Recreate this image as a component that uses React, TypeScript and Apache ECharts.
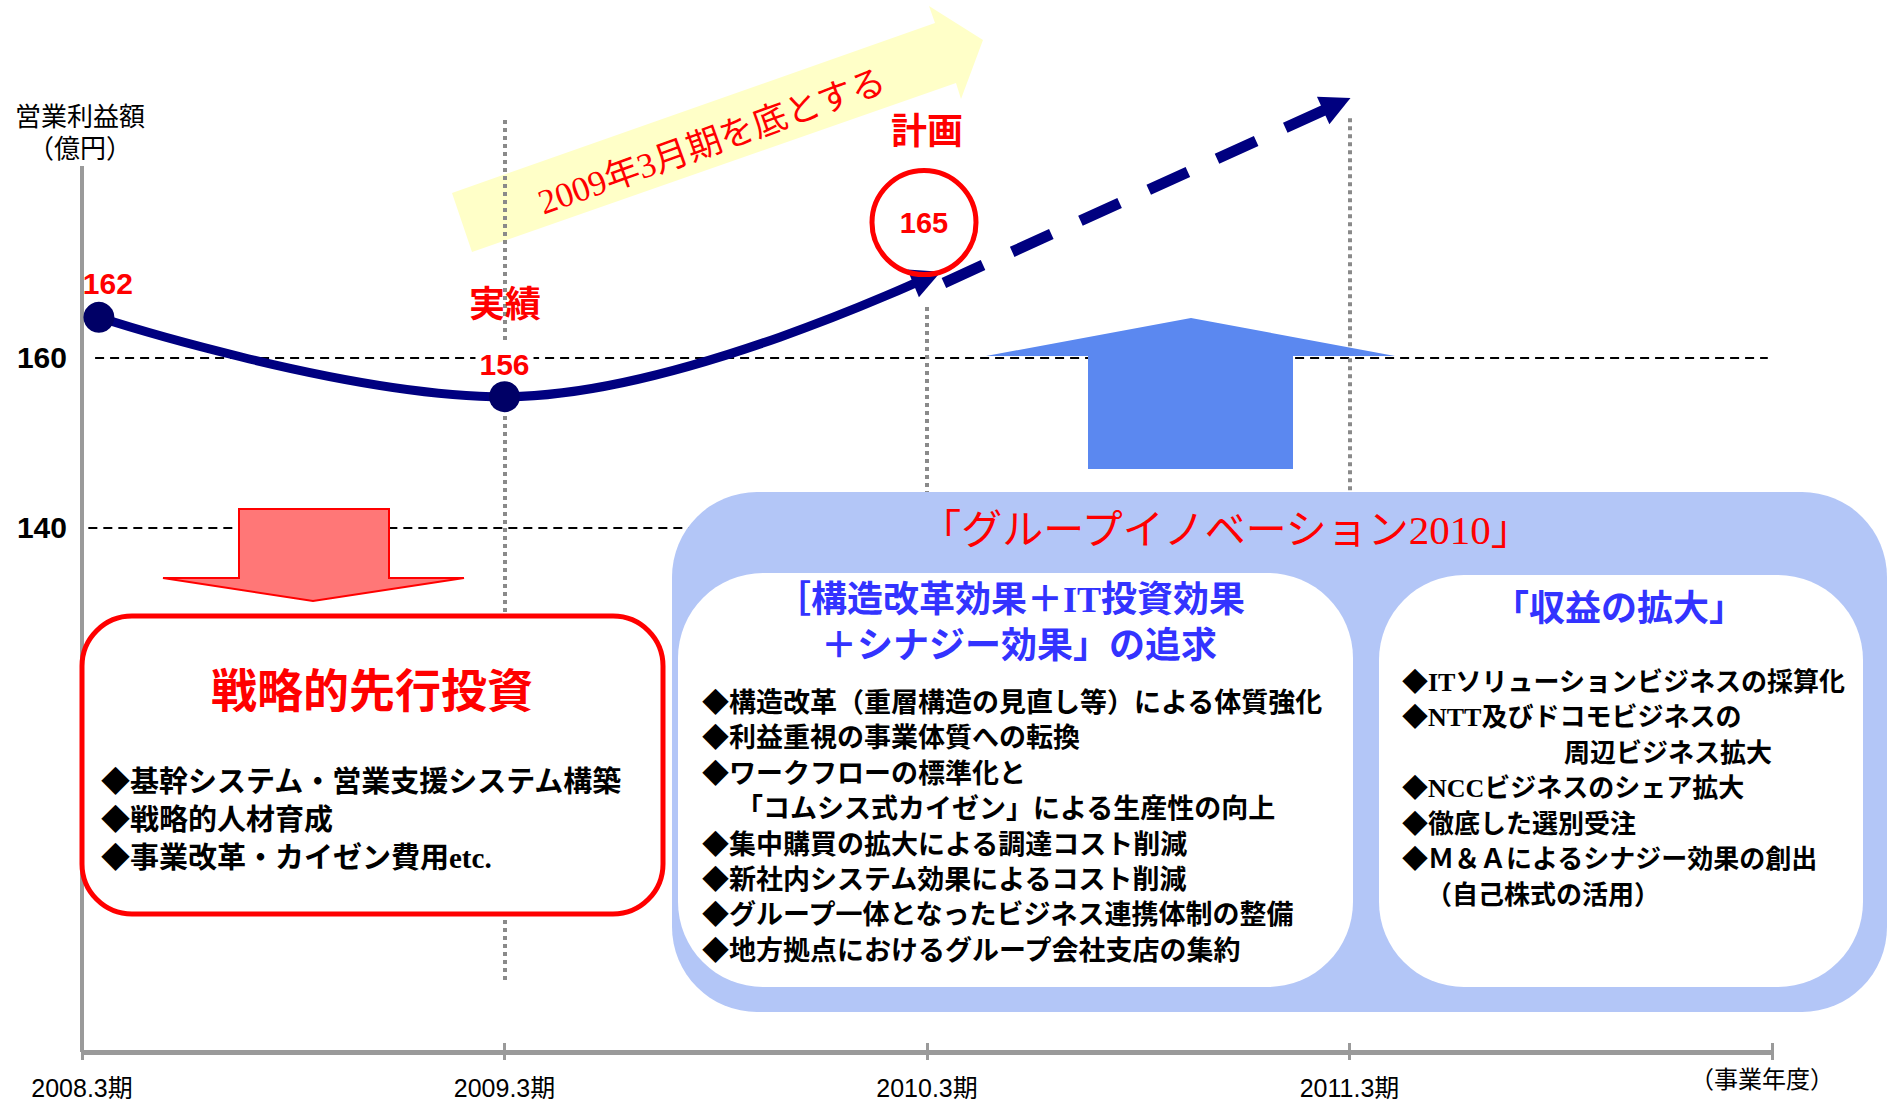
import React, { useEffect, useRef } from 'react';
import * as echarts from 'echarts';

// ---- data ----
const categories = ['2008.3期', '2009.3期', '2010.3期', '2011.3期', ''];
const actualX = [0.04, 1, 2];
const actualY = [162, 156, 165];
const planFrom = [2.04, 164.6];
const planTo = [2.97, 178.1];
const yTickValues = [140, 160];

const axisTitle = ['営業利益額', '（億円）'];
const xAxisName = '（事業年度）';
const bannerText = '2009年3月期を底とする';
const actualTag = '実績';
const planTag = '計画';

const leftTitle = '戦略的先行投資';
const leftBullets = ['◆基幹システム・営業支援システム構築', '◆戦略的人材育成', '◆事業改革・カイゼン費用etc.'];

const mainTitle = '「グループイノベーション2010」';
const midTitle = ['［構造改革効果＋IT投資効果', '＋シナジー効果」の追求'];
const midBullets = [
  '◆構造改革（重層構造の見直し等）による体質強化',
  '◆利益重視の事業体質への転換',
  '◆ワークフローの標準化と',
  '「コムシス式カイゼン」による生産性の向上',
  '◆集中購買の拡大による調達コスト削減',
  '◆新社内システム効果によるコスト削減',
  '◆グループ一体となったビジネス連携体制の整備',
  '◆地方拠点におけるグループ会社支店の集約',
];
const rightTitle = '「収益の拡大」';
const rightBullets = [
  '◆ITソリューションビジネスの採算化',
  '◆NTT及びドコモビジネスの',
  '周辺ビジネス拡大',
  '◆NCCビジネスのシェア拡大',
  '◆徹底した選別受注',
  '◆Ｍ＆Ａによるシナジー効果の創出',
  '（自己株式の活用）',
];

const SERIF = "'Liberation Serif', 'Noto Sans CJK JP', serif";
const SANS = "'Liberation Sans', Arial, 'Noto Sans CJK JP', sans-serif";

function txt(text: string, x: number, y: number, o: any = {}) {
  return {
    type: 'text',
    x,
    y,
    z: o.z ?? 12,
    rotation: o.rotation ?? 0,
    silent: true,
    style: {
      text,
      fill: o.fill ?? '#000',
      fontSize: o.fontSize ?? 28,
      fontWeight: o.fontWeight ?? 'bold',
      fontFamily: o.fontFamily ?? SERIF,
      align: o.align ?? 'left',
      verticalAlign: 'middle',
    },
  };
}

export default function App() {
  const ref = useRef<HTMLDivElement>(null);

  useEffect(() => {
    if (!ref.current) return;
    const chart = echarts.init(ref.current, null, { renderer: 'svg' });

    const actualData = actualX.map((x, i) => {
      const base: any = { value: [x, actualY[i]] };
      if (i === 0) {
        base.label = {
          show: true, position: 'top', distance: 3, offset: [9, 0],
          color: '#FF0000', fontSize: 30, fontWeight: 'bold', fontFamily: SANS,
        };
      } else if (i === 1) {
        base.label = {
          show: true, position: 'top', distance: 1,
          color: '#FF0000', fontSize: 30, fontWeight: 'bold', fontFamily: SANS,
          backgroundColor: '#ffffff', padding: [9, 4, 1, 4],
        };
      } else {
        base.symbolSize = 1;
        base.itemStyle = { color: 'rgba(0,0,0,0)' };
        base.label = {
          show: true, position: 'inside', offset: [-3, -55],
          color: '#FF0000', fontSize: 29, fontWeight: 'bold', fontFamily: SANS,
          width: 104, height: 104, lineHeight: 104, align: 'center', verticalAlign: 'middle',
          borderRadius: 52, borderColor: '#FF0000', borderWidth: 5,
        };
      }
      return base;
    });

    const graphics: any[] = [];
    // y axis title
    graphics.push(txt(axisTitle[0], 80, 117, { align: 'center', fontSize: 26, fontWeight: 'normal' }));
    graphics.push(txt(axisTitle[1], 80, 149, { align: 'center', fontSize: 26, fontWeight: 'normal' }));
    // x axis name
    graphics.push(txt(xAxisName, 1762, 1080, { align: 'center', fontSize: 24, fontWeight: 'normal' }));
    // yellow banner arrow
    graphics.push({
      type: 'polygon', z: 1, silent: true,
      shape: { points: [[472, 252], [452, 193], [935, 23], [929, 6], [983, 40], [961, 99], [956, 83]] },
      style: { fill: '#FFFFC8' },
    });
    graphics.push(txt(bannerText, 712, 142, { align: 'center', fontSize: 35, fontWeight: 'normal', fill: '#FF0000', rotation: 0.345, z: 1 }));
    // tags
    graphics.push(txt(actualTag, 505, 305, { align: 'center', fontSize: 36, fill: '#FF0000', z: 6 }));
    graphics.push(txt(planTag, 927, 132, { align: 'center', fontSize: 36, fill: '#FF0000', z: 6 }));
    // blue up arrow
    graphics.push({
      type: 'polygon', z: 10, silent: true,
      shape: { points: [[986, 356], [1191, 318], [1395, 356], [1293, 356], [1293, 469], [1088, 469], [1088, 356]] },
      style: { fill: '#5B88F0' },
    });
    // red down arrow
    graphics.push({
      type: 'polygon', z: 10, silent: true,
      shape: { points: [[239, 509], [389, 509], [389, 578], [464, 578], [313, 601], [163, 578], [239, 578]] },
      style: { fill: '#FF7777', stroke: '#FF0000', lineWidth: 2 },
    });
    // red box
    graphics.push({
      type: 'rect', z: 10, silent: true,
      shape: { x: 82, y: 616, width: 581, height: 298, r: 50 },
      style: { fill: '#ffffff', stroke: '#FF0000', lineWidth: 5 },
    });
    graphics.push(txt(leftTitle, 372, 691, { align: 'center', fontSize: 46, fill: '#FF0000' }));
    leftBullets.forEach((s, i) => graphics.push(txt(s, 101, 782 + i * 38, { fontSize: 29 })));
    // blue box
    graphics.push({
      type: 'rect', z: 10, silent: true,
      shape: { x: 672, y: 492, width: 1215, height: 520, r: 85 },
      style: { fill: '#B3C6F7' },
    });
    graphics.push({
      type: 'rect', z: 11, silent: true,
      shape: { x: 678, y: 573, width: 675, height: 414, r: 85 },
      style: { fill: '#ffffff' },
    });
    graphics.push({
      type: 'rect', z: 11, silent: true,
      shape: { x: 1379, y: 575, width: 484, height: 412, r: 85 },
      style: { fill: '#ffffff' },
    });
    graphics.push(txt(mainTitle, 1226, 530, { align: 'center', fontSize: 41, fontWeight: 'normal', fill: '#FF0000' }));
    graphics.push(txt(midTitle[0], 1010, 600, { align: 'center', fontSize: 36, fill: '#3333FF' }));
    graphics.push(txt(midTitle[1], 1019, 646, { align: 'center', fontSize: 36, fill: '#3333FF' }));
    midBullets.forEach((s, i) =>
      graphics.push(txt(s, i === 3 ? 736 : 702, 703 + i * 35.4, { fontSize: 27 }))
    );
    graphics.push(txt(rightTitle, 1619, 609, { align: 'center', fontSize: 36, fill: '#3333FF' }));
    rightBullets.forEach((s, i) =>
      graphics.push(txt(s, i === 2 ? 1564 : i === 6 ? 1426 : 1402, 682 + i * 35.5, { fontSize: 26 }))
    );

    const option: any = {
      animation: false,
      backgroundColor: '#ffffff',
      grid: { left: 82, right: 115, top: 40, bottom: 48, containLabel: false },
      xAxis: [{
        type: 'value', min: 0, max: 4, interval: 1, offset: -9,
        axisLine: { show: false },
        axisTick: { show: true, inside: false, length: 17, lineStyle: { color: '#9a9a9a', width: 3 } },
        splitLine: { show: false },
        axisLabel: {
          margin: 32, color: '#000', fontSize: 25, fontFamily: SANS,
          formatter: (v: number) => categories[Math.round(v)] ?? '',
        },
      }],
      yAxis: [
        {
          type: 'value', min: 78.35, max: 197.41,
          axisLine: { show: false }, axisTick: { show: false }, splitLine: { show: false },
          axisLabel: {
            margin: 15, color: '#000', fontSize: 30, fontWeight: 'bold', fontFamily: SANS,
            formatter: (v: number) => (yTickValues.some((t) => Math.abs(t - v) < 1e-6) ? String(Math.round(v)) : ''),
          },
        },
        { type: 'value', min: 106.47, max: 182.96, show: false },
      ],
      graphic: graphics,
      series: [
        {
          name: 'guides', type: 'line', xAxisIndex: 0, yAxisIndex: 0, data: [], silent: true, clip: false, z: 2,
          markLine: {
            silent: true, symbol: 'none', label: { show: false }, animation: false,
            lineStyle: { color: '#000', width: 2, type: [9, 6] },
            data: [
              [{ coord: [0.031, 160] }, { coord: [3.99, 160] }],
              [{ coord: [0.015, 140] }, { coord: [3.99, 140] }],
            ],
          },
        },
        {
          name: 'years', type: 'line', xAxisIndex: 0, yAxisIndex: 0, data: [], silent: true, clip: false, z: 2,
          markLine: {
            silent: true, symbol: 'none', label: { show: false }, animation: false,
            lineStyle: { color: '#8a8a8a', width: 4, type: [4, 4] },
            data: [
              [{ coord: [1, 188.0] }, { coord: [1, 86.35] }],
              [{ coord: [2, 166.0] }, { coord: [2, 131.5] }],
              [{ coord: [3, 188.2] }, { coord: [3, 131.5] }],
            ],
          },
        },
        {
          name: 'axes', type: 'line', xAxisIndex: 0, yAxisIndex: 0, data: [], silent: true, clip: false, z: 3,
          markLine: {
            silent: true, symbol: 'none', label: { show: false }, animation: false,
            lineStyle: { color: '#9a9a9a', width: 4, type: 'solid' },
            data: [
              [{ coord: [0, 182.59] }, { coord: [0, 78.35] }],
              [{ coord: [0, 78.35], lineStyle: { width: 5 } }, { coord: [4, 78.35], lineStyle: { width: 5 } }],
            ],
          },
        },
        {
          name: '営業利益額', type: 'line', xAxisIndex: 0, yAxisIndex: 1, smooth: 0.4, clip: false, z: 5,
          symbol: 'circle', symbolSize: 31,
          lineStyle: { color: '#000080', width: 9 },
          itemStyle: { color: '#000066' },
          data: actualData,
          markLine: {
            silent: true, symbol: ['none', 'triangle'], symbolSize: 30, label: { show: false }, animation: false,
            lineStyle: { color: '#000080', width: 9, type: 'solid' },
            data: [[{ coord: [1.985, 164.8] }, { coord: [2.0, 165.0] }]],
          },
        },
        {
          name: '計画', type: 'line', xAxisIndex: 0, yAxisIndex: 1, data: [], silent: true, clip: false, z: 5,
          markLine: {
            silent: true, symbol: ['none', 'triangle'], symbolSize: 30, label: { show: false }, animation: false,
            lineStyle: { color: '#000080', width: 11, type: [43, 32] },
            data: [[{ coord: planFrom }, { coord: planTo }]],
          },
        },
      ],
    };

    chart.setOption(option);
    return () => chart.dispose();
  }, []);

  return (
    <div
      ref={ref}
      style={{ position: 'absolute', left: 0, top: 0, width: 1887, height: 1100, background: '#fff' }}
    />
  );
}
